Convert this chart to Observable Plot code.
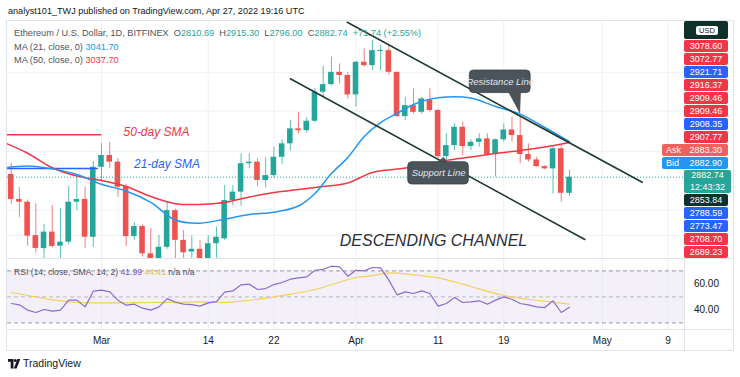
<!DOCTYPE html>
<html><head><meta charset="utf-8">
<script src="https://cdn.jsdelivr.net/npm/d3@7"></script>
<script src="https://cdn.jsdelivr.net/npm/@observablehq/plot@0.6"></script>
<style>
html,body{margin:0;padding:0;background:#fff}
body{width:740px;height:377px;position:relative;overflow:hidden;font-family:"Liberation Sans",Arial,sans-serif;color:#131722}
.a{position:absolute;white-space:nowrap}
.tag{position:absolute;left:684px;width:44px;height:12px;line-height:12px;font-size:9px;color:#fff;text-align:center;border-radius:2px}
.g{color:#26a69a}
</style></head><body>
<div class="a" style="left:8px;top:6px;font-size:9.1px;color:#131722">analyst101_TWJ published on TradingView.com, Apr 27, 2022 19:16 UTC</div>
<div class="a" style="left:6px;top:20px;width:726px;height:329px;border:1px solid #e0e3eb"></div>
<div class="a" style="left:684px;top:21px;width:1px;height:329px;background:#e0e3eb"></div>
<div class="a" style="left:7px;top:258px;width:726px;height:1px;background:#e0e3eb"></div>
<div class="a" style="left:7px;top:329px;width:726px;height:1px;background:#e0e3eb"></div>
<div id="main" class="a" style="left:0;top:21px"></div>
<div id="rsi" class="a" style="left:0;top:258.3px"></div>
<div id="legend1" class="a" style="left:14px;top:28px;font-size:9.2px;color:#50535e"></div>
<div class="a" style="left:14px;top:41.5px;font-size:9.2px;color:#50535e">MA (21, close, 0) <span id="ma21v" style="color:#2196f3"></span></div>
<div class="a" style="left:14px;top:55px;font-size:9.2px;color:#50535e">MA (50, close, 0) <span id="ma50v" style="color:#f23645"></span></div>
<div class="a" style="left:14px;top:266.5px;font-size:8.6px;color:#50535e">RSI (14, close, SMA, 14, 2) <span id="rsiv" style="color:#7e57c2"></span> <span id="rsimav" style="color:#e8c33a"></span> n/a n/a</div>
<div id="tags"></div>
<div class="a" style="left:8px;top:358px;height:12px">
<svg width="13" height="10" viewBox="0 0 13 10" style="position:absolute;left:0;top:1px"><path d="M0 0h5.5v9.5h-2.8v-6.7H0z M8.6 9.5H5.8l3.6-9.5h2.9z" fill="#131722"/><circle cx="7.3" cy="1.5" r="1.5" fill="#131722"/></svg>
<span style="position:absolute;left:15px;top:-1px;font-size:10.5px;color:#131722">TradingView</span></div>
<script>
// ---------- data ----------
const dates = ["2022-02-18","2022-02-19","2022-02-20","2022-02-21","2022-02-22","2022-02-23","2022-02-24","2022-02-25","2022-02-26","2022-02-27","2022-02-28","2022-03-01","2022-03-02","2022-03-03","2022-03-04","2022-03-05","2022-03-06","2022-03-07","2022-03-08","2022-03-09","2022-03-10","2022-03-11","2022-03-12","2022-03-13","2022-03-14","2022-03-15","2022-03-16","2022-03-17","2022-03-18","2022-03-19","2022-03-20","2022-03-21","2022-03-22","2022-03-23","2022-03-24","2022-03-25","2022-03-26","2022-03-27","2022-03-28","2022-03-29","2022-03-30","2022-03-31","2022-04-01","2022-04-02","2022-04-03","2022-04-04","2022-04-05","2022-04-06","2022-04-07","2022-04-08","2022-04-09","2022-04-10","2022-04-11","2022-04-12","2022-04-13","2022-04-14","2022-04-15","2022-04-16","2022-04-17","2022-04-18","2022-04-19","2022-04-20","2022-04-21","2022-04-22","2022-04-23","2022-04-24","2022-04-25","2022-04-26","2022-04-27"];
const open  = [2895,2783,2771,2621,2563,2637,2574,2592,2771,2783,2614, 2927,2980,2950,2840,2617,2662,2540,2518,2569,2733,2600,2548,2560,2518,2585,2607,2778,2816,2943,2950,2868,2890,2972,3032,3099,3091,3133,3263,3297,3352,3338, 3251,3397,3382,3445,3449,3352,3154,3203,3173,3229,3181,2975,3024,3106,3020,3039,3054,2984,3050,3094,3069,2984,2960,2930,2920,3010,2810.69];
const high  = [2945,2837,2780,2764,2671,2756,2742,2841,2883,2838,2953, 3033,3039,2966,2850,2680,2670,2653,2622,2771,2740,2644,2620,2600,2620,2660,2845,2845,2987,2987,2965,2970,3016,3050,3136,3173,3148,3280,3378,3420,3390,3352, 3400,3457,3494,3472,3472,3352,3240,3278,3240,3278,3185,3077,3121,3129,3050,3077,3077,3054,3121,3151,3151,3032,2972,2935,3024,3024,2915.30];
const low   = [2761,2702,2574,2545,2490,2566,2480,2580,2734,2564,2569, 2868,2922,2792,2573,2600,2525,2480,2500,2560,2505,2505,2520,2490,2490,2520,2600,2755,2753,2920,2840,2835,2880,2940,2999,3077,3080,3125,3240,3290,3300,3233, 3196,3375,3360,3360,3340,3150,3136,3165,3165,3175,2965,2950,3002,2980,3002,3017,2980,2883,3039,3039,2943,2950,2927,2916,2808,2771,2796.00];
const close = [2783,2771,2619,2564,2637,2573,2592,2771,2783,2614,2927, 2980,2950,2838,2617,2662,2540,2518,2569,2733,2600,2544,2560,2518,2585,2614,2778,2816,2943,2950,2868,2890,2972,3032,3099,3091,3133,3263,3297,3352,3338,3251, 3397,3382,3449,3450,3352,3154,3203,3173,3233,3181,2975,3024,3106,3020,3039,3054,2984,3050,3094,3069,2984,2960,2930,2920,3010,2810.69,2882.74];

const ma21Dates = ["2022-02-17","2022-02-20","2022-02-23","2022-02-26","2022-03-01","2022-03-04","2022-03-07","2022-03-10","2022-03-13","2022-03-16","2022-03-19","2022-03-22","2022-03-25","2022-03-27","2022-03-29","2022-03-31","2022-04-02","2022-04-04","2022-04-06","2022-04-08","2022-04-10","2022-04-12","2022-04-15","2022-04-18","2022-04-21","2022-04-24","2022-04-27"];
const ma21 = [2924,2933,2920,2895,2851,2821,2770,2691,2677,2695,2716,2726,2754,2810,2899,2971,3065,3127,3168,3208,3232,3242,3237,3199,3165,3105,3041.70];
const ma50Dates = ["2022-02-17","2022-02-20","2022-02-23","2022-02-26","2022-03-01","2022-03-04","2022-03-07","2022-03-10","2022-03-13","2022-03-16","2022-03-19","2022-03-22","2022-03-25","2022-03-28","2022-03-31","2022-04-03","2022-04-06","2022-04-09","2022-04-12","2022-04-15","2022-04-18","2022-04-21","2022-04-24","2022-04-27"];
const ma50 = [3040,2990,2925,2888,2868,2841,2796,2764,2761,2770,2794,2814,2828,2841,2857,2904,2919,2935,2958,2973,2989,3002,3018,3037.70];

const rsi = [44.9,43.9,39.8,38.0,40.3,39.0,39.8,47.5,47.5,42.3,54.4,55.2,53.9,47.5,43.6,44.4,41.3,39.8,42.3,48.7,45.9,44.4,44.1,42.9,45.4,46.4,53.6,54.6,59.3,59.8,55.7,56.4,59.5,61.1,63.6,64.6,65.4,70.5,71.1,73.6,73.1,65.9,70.5,70.0,72.6,72.3,62.9,51.6,53.9,52.6,54.6,52.6,42.9,44.9,49.5,45.7,46.2,47.0,44.4,47.5,50.0,48.2,44.9,43.9,42.3,41.8,47.0,38.0,41.99];
const rsiMaDates = ["2022-02-18","2022-02-21","2022-02-23","2022-02-26","2022-03-01","2022-03-04","2022-03-07","2022-03-10","2022-03-13","2022-03-16","2022-03-18","2022-03-21","2022-03-24","2022-03-27","2022-03-30","2022-04-01","2022-04-03","2022-04-05","2022-04-08","2022-04-11","2022-04-14","2022-04-16","2022-04-19","2022-04-22","2022-04-25","2022-04-27"];
const rsiMa = [53.4,50.0,47.7,45.7,45.4,45.4,45.7,45.9,46.2,45.7,46.7,49.0,52.1,55.7,61.3,64.9,66.4,68.5,67.0,64.6,59.8,56.2,51.1,48.2,45.9,44.41];
const rsiLevels = [30, 50, 70];
const rsiTicks = [40, 60];

const tickDates = ["2022-03-01","2022-03-14","2022-03-22","2022-04-01","2022-04-11","2022-04-19","2022-05-01","2022-05-09"];
const tickLabels = ["Mar","14","22","Apr","11","19","May","9"];
const gridPrices = [3352, 3178, 2998, 2736, 2622];

const smaPointers = [
  {from:"2022-02-17", to:"2022-02-28T22:00Z", price:3072.77, color:"#f23645"},
  {from:"2022-02-17", to:"2022-02-28T12:00Z", price:2921.71, color:"#2962ff"}
];
const channelUpper = [{date:"2022-03-30T22:20Z", price:3576},{date:"2022-05-05T20:40Z", price:2860}];
const channelLower = [{date:"2022-03-24T00:00Z", price:3323},{date:"2022-04-28T21:00Z", price:2604}];
const callouts = [
  {text:"Resistance Line", from:"2022-04-14T20:40Z", to:"2022-04-22T06:30Z", top:3360, bottom:3259,
   pointer:[{date:"2022-04-19T14:40Z", price:3262},{date:"2022-04-20T22:50Z", price:3170},{date:"2022-04-21T01:00Z", price:3262}]},
  {text:"Support Line", from:"2022-04-07T08:40Z", to:"2022-04-14T17:50Z", top:2950, bottom:2850,
   pointer:[{date:"2022-04-10T19:00Z", price:2947},{date:"2022-04-11T15:50Z", price:2972},{date:"2022-04-12T04:00Z", price:2947}]}
];
const textNotes = [
  {text:"50-day SMA", date:"2022-03-07T16:50Z", price:3084, color:"#f23645", size:12},
  {text:"21-day SMA", date:"2022-03-08T23:30Z", price:2942.7, color:"#2962ff", size:12},
  {text:"DESCENDING CHANNEL", date:"2022-04-10T10:30Z", price:2599.5, color:"#2a2e39", size:16}
];
const tagTexts = ["3078.60","3072.77","2921.71","2916.37","2909.46","2909.46","2908.35","2907.77","2883.30","2882.90","2882.74","2853.84","2788.59","2773.47","2708.70","2689.23"];
const tagKinds = ["r","r","b","r","r","r","b","r","ask","bid","last","k","b","b","r","r"];
const lastTimer = "12:43:32";
const currencyLabel = "USD";

// ---------- helpers ----------
const DAY0 = Date.UTC(2022, 2, 1);
const toDay = s => (Date.parse(s.length === 10 ? s + "T00:00:00Z" : s) - DAY0) / 864e5;
const X_DOMAIN = [-11.449, 71.011];
const Y_DOMAIN = [2517.6, 3579.4];
const RSI_DOMAIN = [24.92, 79.54];
const GREEN = "#26a69a", RED = "#ef5350", BOX = "#4b545b";
const FONT = "Liberation Sans, Arial, sans-serif";

const candles = dates.map((d, i) => ({x: toDay(d), o: open[i], h: high[i], l: low[i], c: close[i], col: close[i] >= open[i] ? GREEN : RED}));
const tickDays = tickDates.map(toDay);
const labelOf = new Map(tickDays.map((d, i) => [d, tickLabels[i]]));
const ma21Data = ma21Dates.map((d, i) => ({x: toDay(d), y: ma21[i]}));
const ma50Data = ma50Dates.map((d, i) => ({x: toDay(d), y: ma50[i]}));
const pointerLines = smaPointers.flatMap((p, k) => [{k, x: toDay(p.from), y: p.price, col: p.color}, {k, x: toDay(p.to), y: p.price, col: p.color}]);
const channel = [...channelUpper.map(p => ({k: "u", x: toDay(p.date), y: p.price})), ...channelLower.map(p => ({k: "l", x: toDay(p.date), y: p.price}))];
const calloutPts = callouts.flatMap((c, k) => c.pointer.map(p => ({k, x: toDay(p.date), y: p.price})));
const last = candles[candles.length - 1];

const mainPlot = Plot.plot({
  width: 740, height: 237.3,
  marginLeft: 7, marginRight: 56, marginTop: 0, marginBottom: 0,
  x: {domain: X_DOMAIN, axis: null},
  y: {domain: Y_DOMAIN, axis: null},
  style: {background: "transparent", fontFamily: FONT},
  marks: [
    Plot.ruleX(tickDays, {stroke: "#eef1f6", strokeWidth: 1}),
    Plot.ruleY(gridPrices, {stroke: "#eef1f6", strokeWidth: 1}),
    Plot.ruleX(candles, {x: "x", y1: "l", y2: "h", stroke: "col", strokeWidth: 1, strokeOpacity: 0.75, clip: true}),
    Plot.rect(candles, {x1: d => d.x - 0.34, x2: d => d.x + 0.34, y1: "o", y2: "c", fill: "col", clip: true}),
    Plot.line(pointerLines, {x: "x", y: "y", z: "k", stroke: "col", strokeWidth: 1.6, clip: true}),
    Plot.line(ma50Data, {x: "x", y: "y", stroke: "#f23645", strokeWidth: 1.5, curve: "catmull-rom", clip: true}),
    Plot.line(ma21Data, {x: "x", y: "y", stroke: "#2196f3", strokeWidth: 1.5, curve: "catmull-rom", clip: true}),
    Plot.ruleY([last.c], {stroke: GREEN, strokeDasharray: "1,2", strokeWidth: 1}),
    Plot.line(channel, {x: "x", y: "y", z: "k", stroke: "#1f3a35", strokeWidth: 1.6, clip: true}),
    Plot.line(calloutPts, {x: "x", y: "y", z: "k", fill: BOX, stroke: BOX, strokeWidth: 0.5}),
    Plot.rect(callouts, {x1: d => toDay(d.from), x2: d => toDay(d.to), y1: "bottom", y2: "top", fill: BOX, stroke: "#3a4247", strokeWidth: 0.8, rx: 4}),
    Plot.text(callouts, {x: d => (toDay(d.from) + toDay(d.to)) / 2, y: d => (d.top + d.bottom) / 2, text: "text", fill: "#e4e7eb", fontSize: 9.5, fontStyle: "italic"}),
    Plot.text(textNotes, {x: d => toDay(d.date), y: "price", text: "text", fill: "color", fontSize: d => d.size, fontStyle: "italic"})
  ]
});
document.getElementById("main").appendChild(mainPlot);

const rsiData = candles.map((c, i) => ({x: c.x, y: rsi[i]}));
const rsiMaData = rsiMaDates.map((d, i) => ({x: toDay(d), y: rsiMa[i]}));
const band = [{x1: X_DOMAIN[0], x2: X_DOMAIN[1], y1: rsiLevels[0], y2: rsiLevels[2]}];
const rsiPlot = Plot.plot({
  width: 740, height: 91.7,
  marginLeft: 7, marginRight: 56, marginTop: 0, marginBottom: 20.7,
  x: {domain: X_DOMAIN, ticks: tickDays, tickFormat: d => labelOf.get(d), tickSize: 0, tickPadding: 7, label: null},
  y: {domain: RSI_DOMAIN, axis: "right", ticks: rsiTicks, tickFormat: d => d.toFixed(2), tickSize: 0, tickPadding: 9.5, label: null},
  style: {background: "transparent", fontFamily: FONT, fontSize: "10px", color: "#131722"},
  marks: [
    Plot.rect(band, {x1: "x1", x2: "x2", y1: "y1", y2: "y2", fill: "#7e57c2", fillOpacity: 0.09}),
    Plot.ruleX(tickDays, {stroke: "#e9ebf2", strokeWidth: 1}),
    Plot.ruleY([rsiLevels[0], rsiLevels[2]], {stroke: "#9598a1", strokeDasharray: "4,3", strokeWidth: 1}),
    Plot.ruleY([rsiLevels[1]], {stroke: "#b8bac2", strokeDasharray: "4,3", strokeWidth: 1}),
    Plot.line(rsiMaData, {x: "x", y: "y", stroke: "#f2d060", strokeWidth: 1.2, curve: "catmull-rom"}),
    Plot.line(rsiData, {x: "x", y: "y", stroke: "#8c6bd0", strokeWidth: 1.2})
  ]
});
document.getElementById("rsi").appendChild(rsiPlot);

// legends
const fmt = v => v.toFixed(2);
document.getElementById("legend1").innerHTML =
  `Ethereum / U.S. Dollar, 1D, BITFINEX&nbsp; O<span class="g">${fmt(last.o)}</span>&nbsp; H<span class="g">${fmt(last.h)}</span>&nbsp; L<span class="g">${fmt(last.l)}</span>&nbsp; C<span class="g">${fmt(last.c)}</span>&nbsp; <span class="g">+71.74 (+2.55%)</span>`;
document.getElementById("ma21v").textContent = fmt(ma21[ma21.length - 1]);
document.getElementById("ma50v").textContent = fmt(ma50[ma50.length - 1]);
document.getElementById("rsiv").textContent = fmt(rsi[rsi.length - 1]);
document.getElementById("rsimav").textContent = fmt(rsiMa[rsiMa.length - 1]);

// price-scale tags
const tagsEl = document.getElementById("tags");
const colors = {r: "#f23645", b: "#2962ff", ask: "#f0605c", bid: "#2196f3", last: GREEN, k: "#10302a"};
let tagTop = 40;
const top0 = document.createElement("div");
top0.className = "tag";
top0.style.cssText = "top:21px;height:18px;background:#10302a;";
top0.innerHTML = `<div style="position:absolute;left:12px;top:5px;width:22px;height:9px;line-height:9px;background:#fff;border-radius:2px;color:#131722;font-size:7.5px">${currencyLabel}</div>`;
tagsEl.appendChild(top0);
tagTexts.forEach((t, i) => {
  const k = tagKinds[i];
  const el = document.createElement("div");
  el.className = "tag";
  const h = k === "last" ? 23 : 12;
  let css = `top:${tagTop}px;height:${h}px;background:${colors[k]};`;
  if (k === "ask" || k === "bid") {
    css += "left:662px;width:66px;";
    el.innerHTML = `<span style="position:absolute;left:4px">${k === "ask" ? "Ask" : "Bid"}</span><span style="position:absolute;right:6px">${t}</span>`;
  } else if (k === "last") {
    css += "width:47px;line-height:11.5px;";
    el.innerHTML = `${t}<br>${lastTimer}`;
  } else {
    el.textContent = t;
  }
  el.style.cssText = css;
  tagsEl.appendChild(el);
  tagTop += h + 1;
});
</script>
</body></html>
